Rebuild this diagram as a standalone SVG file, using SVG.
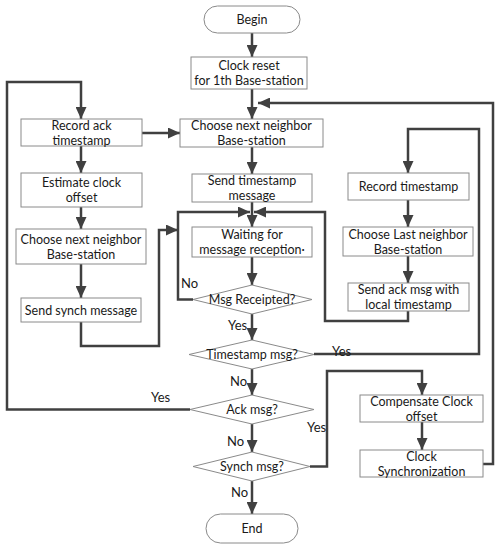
<svg xmlns="http://www.w3.org/2000/svg" width="500" height="550" viewBox="0 0 500 550">
<style>
.box{fill:#fff;stroke:#8a8a8a;stroke-width:1}
.t{font-family:Lato,"Liberation Sans",sans-serif;font-size:12.5px;fill:#1a1a1a;text-anchor:middle}
.l{font-family:Lato,"Liberation Sans",sans-serif;font-size:13px;fill:#1a1a1a}
.c{fill:none;stroke:#404040;stroke-width:2.5}
.a{marker-end:url(#ah)}
</style>
<defs>
<marker id="ah" markerUnits="userSpaceOnUse" markerWidth="12" markerHeight="11" viewBox="0 0 12 11" refX="12" refY="5.5" orient="auto">
<path d="M0,0 L12,5.5 L0,11 z" fill="#404040"/>
</marker>
</defs>
<rect width="500" height="550" fill="#fff"/>
<g id="connectors">
<path class="c a" d="M252,33 V57"/>
<path class="c a" d="M252,89 V119"/>
<path class="c a" d="M252,147 V174"/>
<path class="c a" d="M252,202 V227"/>
<path class="c a" d="M252,257 V285"/>
<path class="c a" d="M252,314 V340"/>
<path class="c a" d="M252,369 V395"/>
<path class="c a" d="M252,424 V452"/>
<path class="c a" d="M252,481 V514"/>
<path class="c a" d="M190,409.5 H7 V82 H81 V119"/>
<path class="c a" d="M142,133 H180"/>
<path class="c a" d="M81,146 V173"/>
<path class="c a" d="M81,207 V229"/>
<path class="c a" d="M81,264 V298"/>
<path class="c a" d="M81,322 V346 H159 V230 H178"/>
<path class="c a" d="M193,299.5 H178 V212 H250"/>
<path class="c a" d="M408,311 V321 H325 V212 H254"/>
<path class="c a" d="M314,354 H479 V129 H408 V173"/>
<path class="c a" d="M408,200 V227"/>
<path class="c a" d="M408,256 V283"/>
<path class="c a" d="M310,466.5 H327 V371 H422 V395"/>
<path class="c a" d="M422,422 V450"/>
<path class="c a" d="M483,464 H493 V103 H258"/>
</g>
<g id="begin"><rect class="box" x="204" y="6" width="96" height="27" rx="13.5"/><text class="t" x="252" y="24">Begin</text></g>
<g id="clock_reset"><rect class="box" x="191" y="57" width="116" height="32"/><text class="t" x="249" y="70">Clock reset<tspan x="249" dy="15">for 1th Base-station</tspan></text></g>
<g id="choose_next"><rect class="box" x="180" y="119" width="143" height="28"/><text class="t" x="251.5" y="130">Choose next neighbor<tspan x="251.5" dy="15">Base-station</tspan></text></g>
<g id="record_ack"><rect class="box" x="21" y="119" width="121" height="27"/><text class="t" x="81.5" y="129.5">Record ack<tspan x="81.5" dy="15">timestamp</tspan></text></g>
<g id="estimate"><rect class="box" x="21" y="173" width="121" height="34"/><text class="t" x="81.5" y="187">Estimate clock<tspan x="81.5" dy="15">offset</tspan></text></g>
<g id="choose_left"><rect class="box" x="16" y="229" width="130" height="35"/><text class="t" x="81" y="243.5">Choose next neighbor<tspan x="81" dy="15">Base-station</tspan></text></g>
<g id="send_synch"><rect class="box" x="21" y="298" width="120" height="24"/><text class="t" x="81" y="314.5">Send synch message</text></g>
<g id="send_ts"><rect class="box" x="192" y="174" width="120" height="28"/><text class="t" x="252" y="185">Send timestamp<tspan x="252" dy="15">message</tspan></text></g>
<g id="waiting"><rect class="box" x="192" y="227" width="120" height="30"/><text class="t" x="252" y="239">Waiting for<tspan x="252" dy="15">message reception·</tspan></text></g>
<g id="msg_receipted"><polygon class="box" points="193,299.5 252,285 312,299.5 252,314"/><text class="t" x="252" y="304">Msg Receipted?</text></g>
<g id="timestamp_msg"><polygon class="box" points="189,354.5 252,340 314,354.5 252,369"/><text class="t" x="252" y="359">Timestamp msg?</text></g>
<g id="ack_msg"><polygon class="box" points="190,409.5 252,395 314,409.5 252,424"/><text class="t" x="252" y="414">Ack msg?</text></g>
<g id="synch_msg"><polygon class="box" points="193,466.5 252,452 310,466.5 252,481"/><text class="t" x="252" y="471">Synch msg?</text></g>
<g id="end"><rect class="box" x="206" y="514" width="92" height="29" rx="14.5"/><text class="t" x="252" y="533">End</text></g>
<g id="record_ts"><rect class="box" x="348" y="173" width="121" height="27"/><text class="t" x="408.5" y="191">Record timestamp</text></g>
<g id="choose_last"><rect class="box" x="343" y="227" width="130" height="29"/><text class="t" x="408" y="238.5">Choose Last neighbor<tspan x="408" dy="15">Base-station</tspan></text></g>
<g id="send_ack"><rect class="box" x="348" y="283" width="121" height="28"/><text class="t" x="408.5" y="294">Send ack msg with<tspan x="408.5" dy="15">local timestamp</tspan></text></g>
<g id="compensate"><rect class="box" x="360" y="395" width="123" height="27"/><text class="t" x="421.5" y="405.5">Compensate Clock<tspan x="421.5" dy="15">offset</tspan></text></g>
<g id="clock_sync"><rect class="box" x="360" y="450" width="123" height="27"/><text class="t" x="421.5" y="460.5">Clock<tspan x="421.5" dy="15">Synchronization</tspan></text></g>
<g id="labels">
<text class="l" x="181" y="288">No</text>
<text class="l" x="228" y="330">Yes</text>
<text class="l" x="332" y="356">Yes</text>
<text class="l" x="230" y="385.5">No</text>
<text class="l" x="151" y="401.5">Yes</text>
<text class="l" x="307" y="431.5">Yes</text>
<text class="l" x="227" y="446">No</text>
<text class="l" x="231" y="497">No</text>
</g>
</svg>
